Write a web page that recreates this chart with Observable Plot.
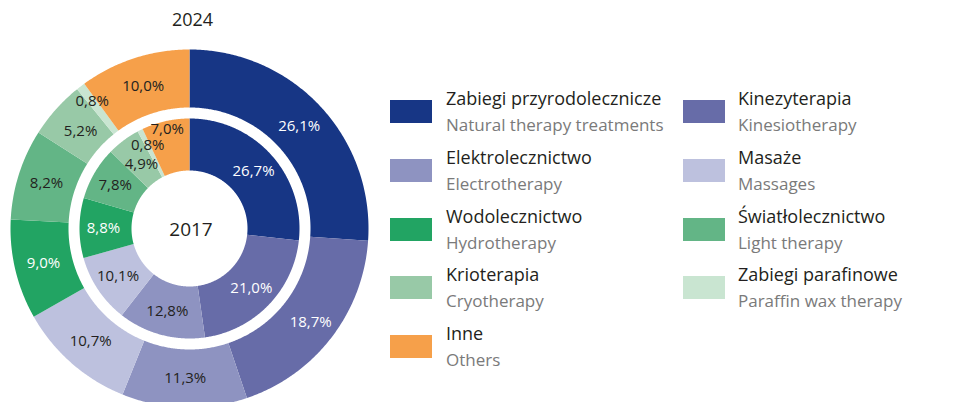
<!DOCTYPE html>
<html><head><meta charset="utf-8">
<script src="https://cdn.jsdelivr.net/npm/d3@7"></script>
<script src="https://cdn.jsdelivr.net/npm/@observablehq/plot@0.6"></script>
<style>
body{margin:0;background:#fff;font-family:"Open Sans",sans-serif;}
#wrap{position:relative;width:957px;height:402px;overflow:hidden;}
#chart{position:absolute;left:0;top:0;}
.row{position:absolute;width:260px;height:23px;}
.sw{position:absolute;left:0;top:0;width:42px;height:23px;}
.t1,.t2{position:absolute;white-space:nowrap;line-height:26px;}
.t1{top:-15px;color:#231f20;font-size:18px;}
.t2{top:12px;color:#7a7a7a;font-size:17px;}
</style></head>
<body><div id="wrap"><div id="chart"></div><div id="legend"></div></div>
<script>
const categories = ["Zabiegi przyrodolecznicze","Kinezyterapia","Elektrolecznictwo","Masaże","Wodolecznictwo","Światłolecznictwo","Krioterapia","Zabiegi parafinowe","Inne"];
const categoriesEn = ["Natural therapy treatments","Kinesiotherapy","Electrotherapy","Massages","Hydrotherapy","Light therapy","Cryotherapy","Paraffin wax therapy","Others"];
const colors = ["#173685","#676ca8","#8e93c1","#bdc1de","#22a463","#63b586","#98c9a7","#c9e5d1","#f6a04a"];
const values2024 = [26.1,18.7,11.3,10.7,9.0,8.2,5.2,0.8,10.0];
const values2017 = [26.7,21.0,12.8,10.1,8.8,7.8,4.9,0.8,7.0];
const years = ["2024","2017"];

const cx = 189, cy = 228;
const rings = {
  "2024": {r0: 121, r1: 179, lr: 150, over: {"Zabiegi parafinowe": 160, "Krioterapia": 146, "Kinezyterapia": 153}},
  "2017": {r0: 58, r1: 110, lr: 86, over: {"Inne": 102, "Zabiegi parafinowe": 93, "Krioterapia": 80}}
};
const whiteText = new Set(["Zabiegi przyrodolecznicze","Kinezyterapia","Wodolecznictwo"]);
const fmt = v => v.toFixed(1).replace(".", ",") + "%";

const pie = d3.pie().sort(null).value(d => d.value).startAngle(0).endAngle(2 * Math.PI);
const features = [], labels = [];
function ring(values, year) {
  const {r0, r1, lr, over} = rings[year];
  const data = categories.map((c, i) => ({category: c, value: values[i], year}));
  for (const a of pie(data)) {
    const n = Math.max(2, Math.ceil((a.endAngle - a.startAngle) / (Math.PI / 360)));
    const ts = d3.range(n + 1).map(k => a.startAngle + (a.endAngle - a.startAngle) * k / n);
    const coords = [
      ...ts.map(t => [r1 * Math.sin(t), -r1 * Math.cos(t)]),
      ...ts.slice().reverse().map(t => [r0 * Math.sin(t), -r0 * Math.cos(t)])
    ];
    coords.push(coords[0]);
    features.push({type: "Feature", properties: {category: a.data.category, year}, geometry: {type: "Polygon", coordinates: [coords]}});
    const mid = (a.startAngle + a.endAngle) / 2;
    const r = over[a.data.category] ?? lr;
    labels.push({x: r * Math.sin(mid), y: -r * Math.cos(mid), text: fmt(a.data.value), white: whiteText.has(a.data.category)});
  }
}
ring(values2024, "2024");
ring(values2017, "2017");

const chart = Plot.plot({
  width: 380, height: 402,
  margin: 0,
  projection: d3.geoIdentity().translate([cx, cy]),
  color: {type: "ordinal", domain: categories, range: colors},
  marks: [
    Plot.geo(features, {fill: d => d.properties.category, stroke: "none"}),
    Plot.text(labels.filter(d => !d.white), {x: "x", y: "y", text: "text", fill: "#231f20", fontSize: 15, fontFamily: "Open Sans"}),
    Plot.text(labels.filter(d => d.white), {x: "x", y: "y", text: "text", fill: "white", fontSize: 15, fontFamily: "Open Sans"}),
    Plot.text([years[1]], {x: () => 1.5, y: () => 1.5, text: d => d, fontSize: 19, fill: "#231f20", fontFamily: "Open Sans"}),
    Plot.text([years[0]], {x: () => 3, y: () => -208, text: d => d, fontSize: 18, fill: "#231f20", fontFamily: "Open Sans"})
  ]
});
document.getElementById("chart").appendChild(chart);

const legend = document.getElementById("legend");
categories.forEach((c, i) => {
  const col = i % 2, row = Math.floor(i / 2);
  const div = document.createElement("div");
  div.className = "row";
  div.style.left = (col === 0 ? 390 : 683) + "px";
  div.style.top = (100 + row * 58.8) + "px";
  const tx = col === 0 ? 56 : 55;
  div.innerHTML = `<div class="sw" style="background:${colors[i]}"></div><div class="t1" style="left:${tx}px">${c}</div><div class="t2" style="left:${tx}px">${categoriesEn[i]}</div>`;
  legend.appendChild(div);
});
</script>
</body></html>
